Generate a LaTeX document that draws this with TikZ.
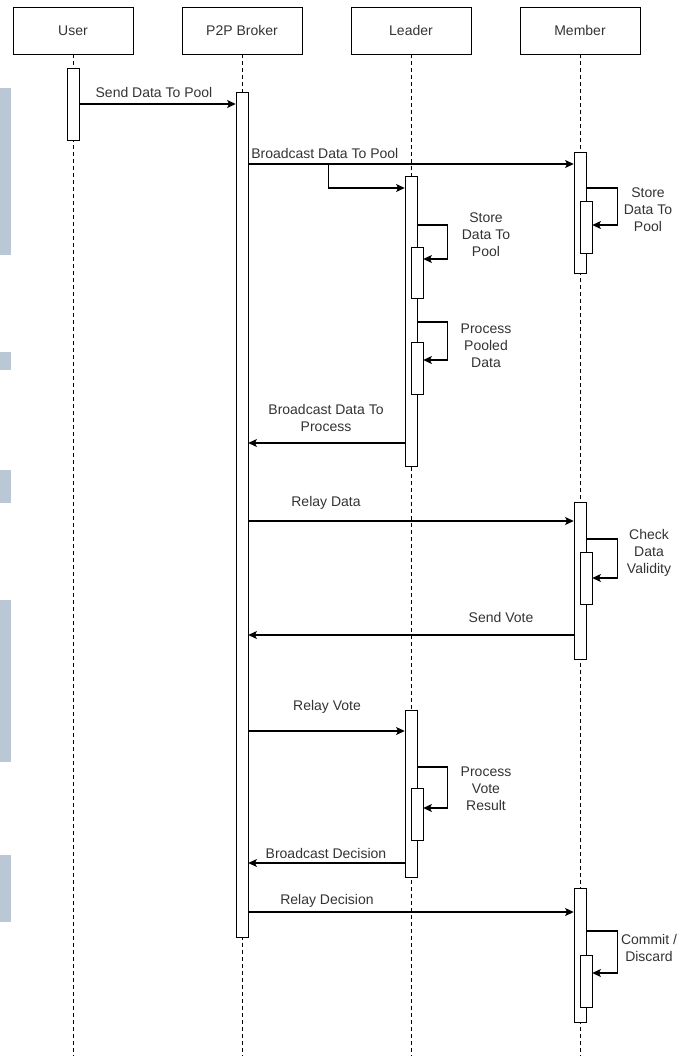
\documentclass[tikz,border=0pt]{standalone}
\usepackage{fontspec}
\setmainfont{Liberation Sans}
\usepackage{xcolor}
\usetikzlibrary{arrows.meta}

\definecolor{strip}{HTML}{BAC8D5}
\definecolor{ink}{HTML}{333333}

\begin{document}
\begin{tikzpicture}[
  x=0.75pt, y=-0.75pt,
  head/.style={draw, rectangle, minimum width=90pt, minimum height=35.25pt, font=\fontsize{10.5}{12.75}\selectfont, text=ink},
  act/.style={draw, fill=white, rectangle, minimum width=9pt, inner sep=0pt},
  lbl/.style={font=\fontsize{10.5}{12.75}\selectfont, align=center, text=ink, inner sep=0pt},
  msg/.style={-{Stealth[length=6.5pt, width=6pt, inset=1.5pt]}, line width=0.8pt},
  life/.style={dash pattern=on 3pt off 2.25pt, line width=0.6pt}
]
\useasboundingbox (0,0) rectangle (678,1056);
% strips left over from the screenshot
\foreach \a/\b in {88/255, 352/370, 470/503, 600/762, 855/922}
  \fill[strip] (0,\a) rectangle (11,\b);

% lifelines
\node[head] (user) at (73,30.5) {User};
\node[head] (broker) at (242,30.5) {P2P Broker};
\node[head] (leader) at (411,30.5) {Leader};
\node[head] (member) at (580,30.5) {Member};
\coordinate (bottom) at (0,1056);
\foreach \n in {user,broker,leader,member}
  \draw[life] (\n.south) -- (\n.south |- bottom);

% message rows
\foreach \n/\y in {send/104, bcast/164, bcast2/188, ms1a/188, ms1b/225, ls1a/225, ls1b/259,
    ls2a/322, ls2b/360, bproc/443, rdata/521, ms2a/539, ms2b/578, vote/635,
    rvote/731, ls3a/767, ls3b/808, bdec/863, rdec/912, ms3a/931, ms3b/973}
  \coordinate (\n) at (0,\y);

% activations
\node[act, minimum height=54pt] (uact) at (73,104) {};
\node[act, minimum height=633.75pt] (bact) at (242,514.5) {};
\node[act, minimum height=217.5pt] (lact1) at (411,321) {};
\node[act, minimum height=38.25pt] (lsub1) at (417,272.5) {};
\node[act, minimum height=39pt] (lsub2) at (417,368) {};
\node[act, minimum height=125.25pt] (lact2) at (411,793.5) {};
\node[act, minimum height=39pt] (lsub3) at (417,814) {};
\node[act, minimum height=90.75pt] (mact1) at (580,212.5) {};
\node[act, minimum height=39pt] (msub1) at (586,227) {};
\node[act, minimum height=117.75pt] (mact2) at (580,580.5) {};
\node[act, minimum height=39pt] (msub2) at (586,578) {};
\node[act, minimum height=100.5pt] (mact3) at (580,955) {};
\node[act, minimum height=39pt] (msub3) at (586,981) {};

% messages
\draw[msg] (uact.east |- send) -- (bact.west |- send);
\draw[msg] (bact.east |- bcast) -- (mact1.west |- bcast);
\draw[msg] (bact.east |- bcast) -- ++(80,0) |- (lact1.west |- bcast2);
\draw[msg] (mact1.east |- ms1a) -- ++(31,0) |- (msub1.east |- ms1b);
\draw[msg] (lact1.east |- ls1a) -- ++(30,0) |- (lsub1.east |- ls1b);
\draw[msg] (lact1.east |- ls2a) -- ++(30,0) |- (lsub2.east |- ls2b);
\draw[msg] (lact1.west |- bproc) -- (bact.east |- bproc);
\draw[msg] (bact.east |- rdata) -- (mact2.west |- rdata);
\draw[msg] (mact2.east |- ms2a) -- ++(31,0) |- (msub2.east |- ms2b);
\draw[msg] (mact2.west |- vote) -- (bact.east |- vote);
\draw[msg] (bact.east |- rvote) -- (lact2.west |- rvote);
\draw[msg] (lact2.east |- ls3a) -- ++(30,0) |- (lsub3.east |- ls3b);
\draw[msg] (lact2.west |- bdec) -- (bact.east |- bdec);
\draw[msg] (bact.east |- rdec) -- (mact3.west |- rdec);
\draw[msg] (mact3.east |- ms3a) -- ++(31,0) |- (msub3.east |- ms3b);

% labels
\node[lbl] (tsend) at (154,92) {Send Data To Pool};
\node[lbl, anchor=west] (tbpool) at (251,153) {Broadcast Data To Pool};
\node[lbl] (tmstore) at (648,210) {Store\\Data To\\Pool};
\node[lbl] (tlstore) at (486,235) {Store\\Data To\\Pool};
\node[lbl] (tlproc) at (486,346) {Process\\Pooled\\Data};
\node[lbl] (tbproc) at (326,418) {Broadcast Data To\\Process};
\node[lbl] (trdata) at (326,503) {Relay Data};
\node[lbl] (tcheck) at (649,553) {Check\\Data\\Validity};
\node[lbl] (tvote) at (501,617) {Send Vote};
\node[lbl] (trvote) at (327,707) {Relay Vote};
\node[lbl] (tpvote) at (486,789) {Process\\Vote\\Result};
\node[lbl] (tbdec) at (326,853) {Broadcast Decision};
\node[lbl] (trdec) at (327,901) {Relay Decision};
\node[lbl] (tcommit) at (649,948) {Commit /\\Discard};
\end{tikzpicture}
\end{document}
